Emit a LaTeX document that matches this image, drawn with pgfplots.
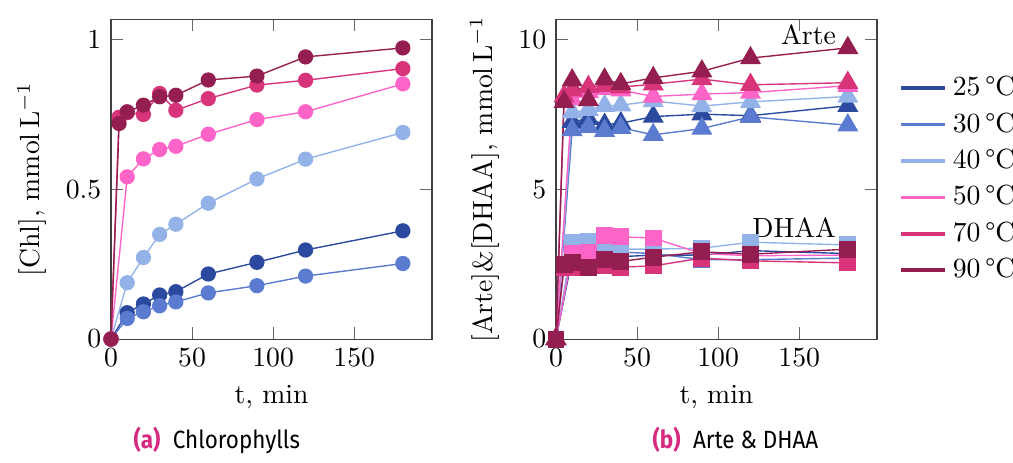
\documentclass[border=0pt]{standalone}
\usepackage{fontspec}
\newfontfamily\capfont[FakeStretch=0.9]{Fira Sans}
\usepackage{pgfplots}
\pgfplotsset{compat=1.18}
\definecolor{c25}{HTML}{2B4A9F}
\definecolor{c30}{HTML}{5A7BCF}
\definecolor{c40}{HTML}{93B3E8}
\definecolor{c50}{HTML}{FC64C8}
\definecolor{c70}{HTML}{D8347A}
\definecolor{c90}{HTML}{951E50}
\definecolor{capc}{HTML}{D62A7E}
\pgfplotsset{
  common/.style={
    scale only axis, width=115.9pt, height=115.5pt,
    xmin=0, xmax=198, xtick={0,50,100,150},
    xlabel={t, min},
    axis line style={black!75}, tick style={black!60},
    every axis plot/.append style={line width=0.5pt},
  },
}
\begin{document}
\begin{tikzpicture}
\useasboundingbox (0,0) rectangle (365.7pt,-167.1pt);
% ---------------- left ----------------
\begin{axis}[common, at={(40.07pt,-122.4pt)}, anchor=south west,
  ymin=0, ymax=1.067, ytick={0,0.5,1},
  ylabel={[Chl], mmol\,L$^{-1}$},
  every axis plot/.append style={mark=*, mark size=2.5pt}]
\addplot[c25, mark=*] coordinates {(0,0) (10,0.088) (20,0.117) (30,0.147) (40,0.158) (60,0.217) (90,0.256) (120,0.297) (180,0.361)};
\addplot[c30, mark=*] coordinates {(0,0) (10,0.069) (20,0.091) (30,0.111) (40,0.124) (60,0.154) (90,0.178) (120,0.21) (180,0.252)};
\addplot[c40, mark=*] coordinates {(0,0) (10,0.188) (20,0.272) (30,0.349) (40,0.383) (60,0.453) (90,0.534) (120,0.6) (180,0.689)};
\addplot[c50, mark=*] coordinates {(0,0) (10,0.541) (20,0.601) (30,0.632) (40,0.643) (60,0.683) (90,0.732) (120,0.758) (180,0.851)};
\addplot[c70, mark=*] coordinates {(0,0) (5,0.74) (10,0.755) (20,0.749) (30,0.819) (40,0.763) (60,0.802) (90,0.847) (120,0.863) (180,0.902)};
\addplot[c90, mark=*] coordinates {(0,0) (5,0.719) (10,0.758) (20,0.78) (30,0.808) (40,0.813) (60,0.864) (90,0.877) (120,0.941) (180,0.971)};
\end{axis}
% ---------------- right ----------------
\begin{axis}[common, at={(200.7pt,-122.4pt)}, anchor=south west,
  ymin=0, ymax=10.67, ytick={0,5,10},
  ylabel={[Arte]\&[DHAA], mmol\,L$^{-1}$},
  legend style={at={(1.04,0.5)}, anchor=west, draw=none, fill=none,
    font=\normalsize, row sep=0.6pt},
  legend cell align=left,
  legend image code/.code={\draw[line width=1.3pt] (0cm,0cm) -- (0.57cm,0cm);}]
\addplot[c25, mark=triangle*, mark size=3.9pt] coordinates {(0,0) (10,7.25) (20,7.35) (30,7.15) (40,7.2) (60,7.42) (90,7.5) (120,7.45) (180,7.78)};
\addplot[c30, mark=triangle*, mark size=3.9pt] coordinates {(0,0) (10,6.97) (20,7.08) (30,6.95) (40,7.05) (60,6.81) (90,7.02) (120,7.41) (180,7.13)};
\addplot[c40, mark=triangle*, mark size=3.9pt] coordinates {(0,0) (10,7.56) (20,7.65) (30,7.78) (40,7.8) (60,7.94) (90,7.77) (120,7.91) (180,8.09)};
\addplot[c50, mark=triangle*, mark size=3.9pt] coordinates {(0,0) (10,8.0) (20,8.25) (30,8.35) (40,8.3) (60,8.09) (90,8.17) (120,8.22) (180,8.45)};
\addplot[c70, mark=triangle*, mark size=3.9pt] coordinates {(0,0) (5,8.1) (10,8.3) (20,8.41) (30,8.45) (40,8.4) (60,8.5) (90,8.67) (120,8.48) (180,8.55)};
\addplot[c90, mark=triangle*, mark size=3.9pt] coordinates {(0,0) (5,7.91) (10,8.63) (20,7.97) (30,8.66) (40,8.51) (60,8.71) (90,8.93) (120,9.37) (180,9.71)};
\addlegendentry{25\,°C}
\addlegendentry{30\,°C}
\addlegendentry{40\,°C}
\addlegendentry{50\,°C}
\addlegendentry{70\,°C}
\addlegendentry{90\,°C}
\addplot[c25, mark=square*, mark size=2.8pt, forget plot] coordinates {(0,0) (10,2.7) (20,2.75) (30,2.8) (40,2.75) (60,2.8) (90,2.8) (120,2.95) (180,2.85)};
\addplot[c30, mark=square*, mark size=2.8pt, forget plot] coordinates {(0,0) (10,2.9) (20,3.0) (30,2.95) (40,2.9) (60,2.85) (90,2.65) (120,2.65) (180,2.7)};
\addplot[c40, mark=square*, mark size=2.8pt, forget plot] coordinates {(0,0) (10,3.23) (20,3.27) (30,3.07) (40,3.0) (60,3.0) (90,3.03) (120,3.23) (180,3.14)};
\addplot[c50, mark=square*, mark size=2.8pt, forget plot] coordinates {(0,0) (10,2.85) (20,2.9) (30,3.44) (40,3.41) (60,3.37) (90,2.85) (120,2.78) (180,2.8)};
\addplot[c70, mark=square*, mark size=2.8pt, forget plot] coordinates {(0,0) (5,2.4) (10,2.4) (20,2.37) (30,2.45) (40,2.4) (60,2.44) (90,2.7) (120,2.61) (180,2.54)};
\addplot[c90, mark=square*, mark size=2.8pt, forget plot] coordinates {(0,0) (5,2.48) (10,2.56) (20,2.39) (30,2.64) (40,2.59) (60,2.73) (90,2.91) (120,2.83) (180,3.0)};
\node[anchor=base east, inner sep=0pt] at (axis cs:173,9.83) {Arte};
\node[anchor=base east, inner sep=0pt] at (axis cs:173,3.4) {DHAA};
\end{axis}
% ---------------- captions ----------------
\node[anchor=base west, inner sep=0pt, font=\capfont\small] at (48pt,-161.9pt) {\textcolor{capc}{\bfseries(a)}\enspace Chlorophylls};
\node[anchor=base west, inner sep=0pt, font=\capfont\small] at (235.4pt,-161.9pt) {\textcolor{capc}{\bfseries(b)}\enspace Arte \& DHAA};
\end{tikzpicture}
\end{document}
